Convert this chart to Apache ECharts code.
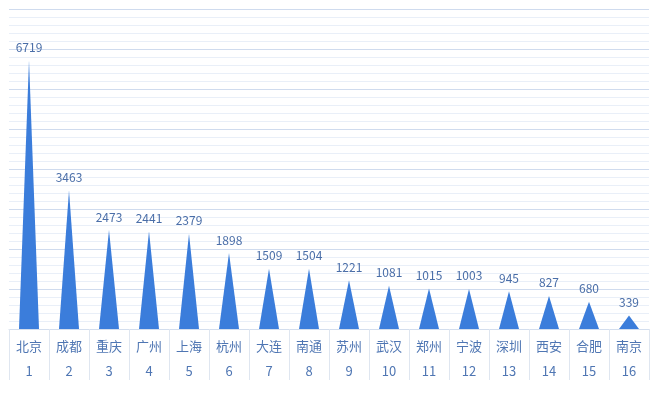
<!DOCTYPE html>
<html><head><meta charset="utf-8">
<script src="https://cdn.jsdelivr.net/npm/echarts@6/dist/echarts.min.js"></script>
<style>html,body{margin:0;padding:0;background:#fff}#c{width:656px;height:393px}</style>
</head><body><div id="c"></div>
<script>
var cities = ['北京','成都','重庆','广州','上海','杭州','大连','南通','苏州','武汉','郑州','宁波','深圳','西安','合肥','南京'];
var ranks = ['1','2','3','4','5','6','7','8','9','10','11','12','13','14','15','16'];
var values = [6719,3463,2473,2441,2379,1898,1509,1504,1221,1081,1015,1003,945,827,680,339];

var chart = echarts.init(document.getElementById('c'));
var font = '"Noto Sans CJK SC", "Noto Sans", sans-serif';
chart.setOption({
  animation: false,
  textStyle: {fontFamily: font},
  grid: {left: 9, right: 7, top: 9, bottom: 64},
  xAxis: {
    type: 'category',
    data: cities,
    axisLine: {lineStyle: {color: '#d3deee', width: 1}},
    axisTick: {show: true, alignWithLabel: false, interval: 0, length: 51, lineStyle: {color: '#dfe6f0'}},
    axisLabel: {
      interval: 0,
      margin: 5,
      formatter: function (v, i) { return '{a|' + v + '}\n{b|' + ranks[i] + '}'; },
      rich: {
        a: {fontSize: 13, color: '#4f76b3', lineHeight: 25, fontFamily: font},
        b: {fontSize: 13, color: '#4f76b3', lineHeight: 25, fontFamily: font}
      }
    }
  },
  yAxis: {
    type: 'value',
    min: 0, max: 8000, interval: 1000,
    axisLabel: {show: false},
    axisLine: {show: false},
    axisTick: {show: false},
    splitLine: {lineStyle: {color: '#cfdbee', width: 1}},
    minorTick: {show: false, splitNumber: 5},
    minorSplitLine: {show: true, lineStyle: {color: '#e9eff8', width: 1}}
  },
  series: [{
    type: 'pictorialBar',
    data: values,
    symbol: 'triangle',
    barWidth: 20,
    symbolSize: ['100%', '100%'],
    itemStyle: {color: '#3b7ddb'},
    label: {
      show: true, position: 'top', distance: 7,
      fontSize: 12, color: '#4a6ea8', fontFamily: font
    }
  }]
});
</script></body></html>
